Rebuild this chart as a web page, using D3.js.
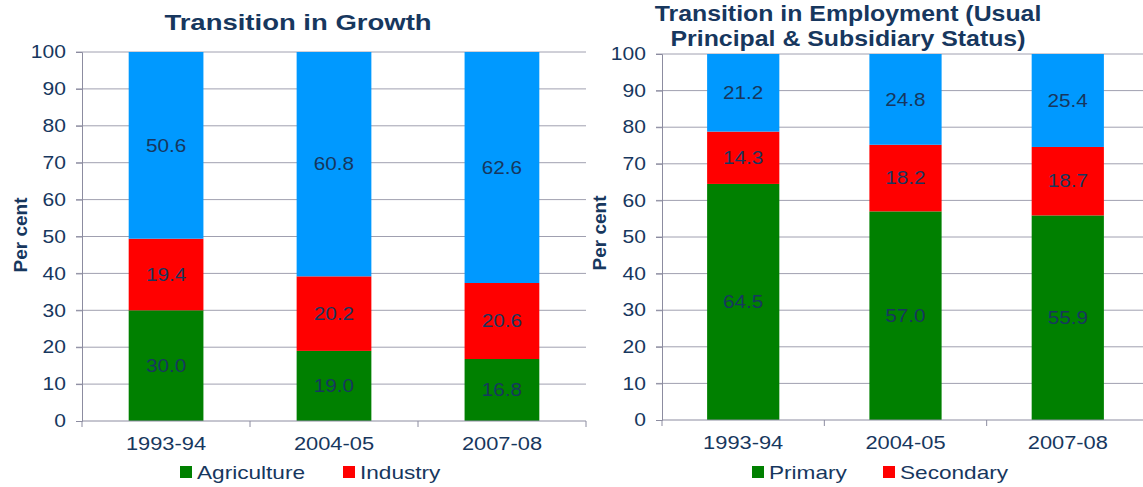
<!DOCTYPE html>
<meta charset="utf-8">
<style>
body { margin: 0; background: #fff; }
text { font-family: "Liberation Sans", Arial, sans-serif; fill: #17375e; }
.axis path, .axis line { stroke: #8c8ca0; }
.grid line { stroke: #a0a0b0; }
.title { font-weight: bold; font-size: 22px; transform-box: fill-box; transform-origin: center; }
.ytitle { font-weight: bold; font-size: 19px; }
.sx-mid { transform-box: fill-box; transform-origin: center; transform: scaleX(1.15); }
.sx-end { transform-box: fill-box; transform-origin: right center; transform: scaleX(1.17); }
.sx-start { transform-box: fill-box; transform-origin: left center; transform: scaleX(1.19); }
</style>
<svg width="1143" height="487"></svg>
<script src="https://d3js.org/d3.v7.min.js"></script>
<script>

var years = ["1993-94", "2004-05", "2007-08"];
var ticks = [0, 10, 20, 30, 40, 50, 60, 70, 80, 90, 100];

var growthSeries = ["Agriculture", "Industry", "Services"];
var agriculture = [30.0, 19.0, 16.8];
var industry = [19.4, 20.2, 20.6];
var services = [50.6, 60.8, 62.6];

var empSeries = ["Primary", "Secondary", "Tertiary"];
var primary = [64.5, 57.0, 55.9];
var secondary = [14.3, 18.2, 18.7];
var tertiary = [21.2, 24.8, 25.4];

var colors = ["#008000", "#ff0000", "#0099ff"];

var svg = d3.select("svg");

function drawChart(opt) {
  var x = d3.scaleBand().domain(years).range([opt.left, opt.right]).paddingInner(0.555).paddingOuter(0.278);
  var xb = d3.scaleBand().domain(years).range([opt.left, opt.right]);
  var y = d3.scaleLinear().domain([0, 100]).range([opt.bottom, opt.top]);
  var g = svg.append("g");

  g.append("g").attr("class", "grid")
    .selectAll("line").data(ticks.slice(1)).enter().append("line")
      .attr("x1", opt.left - 6).attr("x2", opt.gridEnd)
      .attr("y1", function(d) { return y(d); }).attr("y2", function(d) { return y(d); });

  var rows = years.map(function(yr, i) {
    var r = {year: yr};
    opt.keys.forEach(function(k, j) { r[k] = opt.data[j][i]; });
    return r;
  });
  var stack = d3.stack().keys(opt.keys)(rows);

  var layer = g.selectAll(".layer").data(stack).enter().append("g")
      .attr("fill", function(d, i) { return colors[i]; });
  layer.selectAll("rect").data(function(d) { return d; }).enter().append("rect")
      .attr("x", function(d) { return x(d.data.year); })
      .attr("width", x.bandwidth())
      .attr("y", function(d) { return y(d[1]); })
      .attr("height", function(d) { return y(d[0]) - y(d[1]); });
  layer.selectAll("text").data(function(d) { return d; }).enter().append("text")
      .attr("class", "sx-mid")
      .attr("x", function(d) { return x(d.data.year) + x.bandwidth() / 2; })
      .attr("y", function(d) { return y((d[0] + d[1]) / 2); })
      .attr("dy", "0.35em")
      .attr("text-anchor", "middle")
      .style("font-size", "18px")
      .text(function(d) { return (d[1] - d[0]).toFixed(1); });

  var ya = g.append("g").attr("class", "axis")
      .attr("transform", "translate(" + opt.left + ",0)")
      .call(d3.axisLeft(y).tickValues(ticks).tickSize(6).tickPadding(10));
  ya.selectAll("text").attr("class", "sx-end").style("font-size", "18px").style("fill", "#17375e");

  var xa = g.append("g").attr("class", "axis")
      .attr("transform", "translate(0," + opt.bottom + ")");
  xa.append("line").attr("x1", opt.left).attr("x2", opt.gridEnd).attr("y1", 0).attr("y2", 0);
  xa.selectAll(".tk").data(years.concat(["end"])).enter().append("line")
      .attr("x1", function(d, i) { return opt.left + i * xb.bandwidth(); })
      .attr("x2", function(d, i) { return opt.left + i * xb.bandwidth(); })
      .attr("y1", 0).attr("y2", 6);
  xa.selectAll("text").data(years).enter().append("text")
      .attr("class", "sx-mid")
      .attr("x", function(d) { return xb(d) + xb.bandwidth() / 2; })
      .attr("y", 29)
      .attr("text-anchor", "middle")
      .style("font-size", "19px")
      .text(function(d) { return d; });

  g.append("text").attr("class", "ytitle")
      .attr("transform", "translate(" + opt.ytitleX + "," + opt.ytitleY + ") rotate(-90)")
      .attr("text-anchor", "middle")
      .text("Per cent");

  opt.title.forEach(function(t, i) {
    g.append("text").attr("class", "title")
      .attr("x", opt.titleX).attr("y", opt.titleY + i * 25)
      .attr("text-anchor", "middle")
      .style("transform", "scaleX(" + opt.titleScale + ")")
      .text(t);
  });

  var lg = g.append("g");
  opt.legend.forEach(function(l, i) {
    lg.append("rect").attr("x", l.x).attr("y", 466).attr("width", 12).attr("height", 12)
      .attr("fill", colors[i]);
    lg.append("text").attr("class", "sx-start")
      .attr("x", l.x + 17).attr("y", 479).style("font-size", "19px")
      .text(opt.keys[i]);
  });
}

drawChart({
  left: 82, right: 586, gridEnd: 586, top: 52, bottom: 421,
  keys: growthSeries, data: [agriculture, industry, services],
  title: ["Transition in Growth"], titleX: 298, titleY: 30, titleScale: 1.25,
  ytitleX: 27, ytitleY: 235,
  legend: [{x: 180}, {x: 343}]
});

drawChart({
  left: 662, right: 1149, gridEnd: 1143, top: 54, bottom: 420,
  keys: empSeries, data: [primary, secondary, tertiary],
  title: ["Transition in Employment (Usual", "Principal & Subsidiary Status)"], titleX: 848, titleY: 21, titleScale: 1.13,
  ytitleX: 606, ytitleY: 233,
  legend: [{x: 752}, {x: 883}]
});

</script>
